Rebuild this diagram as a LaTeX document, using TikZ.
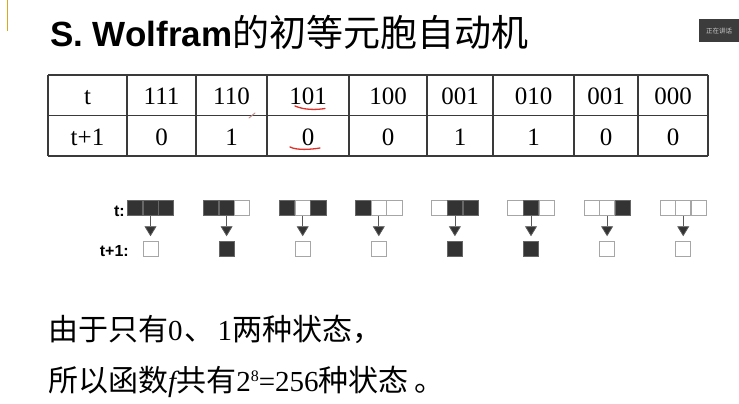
\documentclass[tikz,border=0pt]{standalone}
\usepackage{fontspec}
\usepackage{graphicx}
\setmainfont{Liberation Serif}
\newfontfamily\arialf{Liberation Sans}
\newfontfamily\cjk{Noto Sans CJK SC}
\usetikzlibrary{arrows.meta}
\definecolor{tabline}{HTML}{3A3A3A}
\definecolor{penred}{HTML}{E0302A}
\definecolor{goldline}{HTML}{D9A81E}
\definecolor{darkbox}{HTML}{3C3C3C}
\tikzset{
  sqb/.style={draw=black!60, fill=black!80, line width=0.6pt, minimum width=15.2pt, minimum height=15.5pt, inner sep=0pt, outer sep=0pt},
  sqw/.style={draw=black!35, fill=white, line width=0.8pt, minimum width=15.2pt, minimum height=15.5pt, inner sep=0pt, outer sep=0pt},
  flow/.style={draw=black!65, line width=0.8pt, -{Triangle[width=12pt,length=10pt,fill=black!80]}, shorten >=5pt},
  cell/.style={anchor=base, inner sep=0pt, font=\fontsize{25}{28}\selectfont},
  lbl/.style={anchor=base east, inner sep=0pt, font=\arialf\bfseries\fontsize{16}{18}\selectfont},
  tline/.style={draw=tabline, line width=1.1pt},
  pen/.style={draw=penred, line width=1.3pt, line cap=round},
  body/.style={anchor=base west, inner sep=0pt, font=\cjk\fontsize{30}{32}\selectfont}
}
\newcommand{\lat}[1]{{\rmfamily\fontsize{29}{31}\selectfont #1}}
\begin{document}
\begin{tikzpicture}[x=1pt,y=-1pt]
\useasboundingbox[fill=white] (0,0) rectangle (739,404);
% left gold bar
\draw[goldline, line width=1.5pt] (7.5,0) -- (7.5,31);
% top-right box
\node[fill=darkbox, anchor=north west, minimum width=40pt, minimum height=23pt, inner sep=0pt, text=black!20, font=\cjk\fontsize{6.5}{7}\selectfont] (talk) at (699,19) {正在讲话};
% title
\node[anchor=base west, inner sep=0pt] (title) at (50,47) {{\arialf\bfseries\fontsize{35}{40}\selectfont S. Wolfram}{\cjk\fontsize{37}{40}\selectfont 的初等元胞自动机}};
% table grid
\foreach \x in {48,127,196,267,349,427,493,574,638,708} \draw[tline] (\x,75) -- (\x,156);
\draw[tline] (48,75) -- (708,75);
\draw[tline] (48,115.5) -- (708,115.5);
\draw[tline] (48,156) -- (708,156);
% table text
\foreach \n/\cx/\a/\b in {0/87.5/t/t+1, 1/161.5/111/0, 2/231.5/110/1, 3/308/101/0, 4/388/100/0, 5/460/001/1, 6/533.5/010/1, 7/606/001/0, 8/673/000/0} {
  \node[cell] (ta\n) at (\cx,104) {\a};
  \node[cell] (tb\n) at (\cx,145) {\b};
}
% pen marks
\draw[pen] (295,106) .. controls (304,110) and (316,110) .. (325,108.5);
\draw[pen] (290,147) .. controls (297,150.5) and (311,149.5) .. (320,148);
\draw[draw=penred!60!black!50, line width=1pt, line cap=round] (249,118) -- (255,113);
% cell diagram labels
\node[lbl] (lt) at (125,216) {t:};
\node[lbl] (lt1) at (129,256) {t+1:};
% cell groups
\foreach \i/\cx/\a/\b/\c/\r in {1/150.5/sqb/sqb/sqb/sqw, 2/226.6/sqb/sqb/sqw/sqb, 3/302.7/sqb/sqw/sqb/sqw, 4/378.8/sqb/sqw/sqw/sqw, 5/454.9/sqw/sqb/sqb/sqb, 6/531/sqw/sqb/sqw/sqb, 7/607.1/sqw/sqw/sqb/sqw, 8/683.2/sqw/sqw/sqw/sqw} {
  \node[\a] (gl\i) at ({\cx-15.6},208) {};
  \node[\b] (g\i) at (\cx,208) {};
  \node[\c] (gr\i) at ({\cx+15.6},208) {};
  \node[\r] (r\i) at (\cx,249) {};
  \draw[flow] (g\i) -- (r\i);
}
% bottom text
\node[body] (line1) at (48,340) {由于只有\lat{0}\hspace{2pt}、\hspace{3pt}\lat{1}两种状态，};
\node[body] (line2) at (48,391) {所以函数\lat{\itshape f}共有\lat{2\raisebox{10pt}{\fontsize{16}{16}\selectfont 8}=256}种状态\hspace{6pt}。};
\end{tikzpicture}
\end{document}
